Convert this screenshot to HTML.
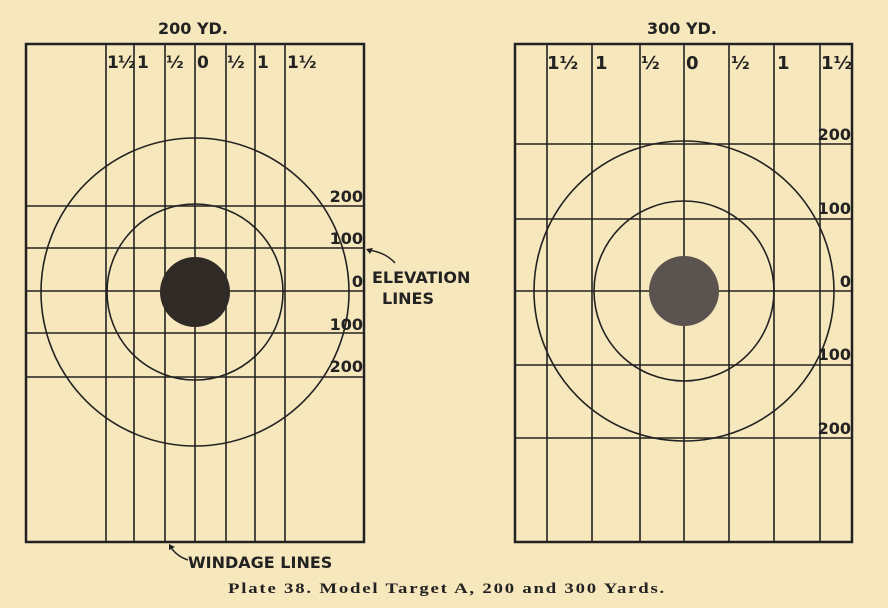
<!DOCTYPE html>
<html><head><meta charset="utf-8"><style>
html,body{margin:0;padding:0;background:#f7e7bd;}
svg{display:block}
text{font-family:"DejaVu Sans","Liberation Sans",sans-serif;font-weight:bold;fill:#222;}
</style></head><body>
<svg width="888" height="608" viewBox="0 0 888 608" xmlns="http://www.w3.org/2000/svg">
<rect width="888" height="608" fill="#f7e7bd"/>
<g stroke="#222" fill="none">
<rect x="26" y="44" width="338" height="498" stroke-width="2.5"/>
<g stroke-width="1.6">
<line x1="106" y1="44" x2="106" y2="542"/><line x1="134" y1="44" x2="134" y2="542"/>
<line x1="165" y1="44" x2="165" y2="542"/><line x1="195" y1="44" x2="195" y2="542"/>
<line x1="226" y1="44" x2="226" y2="542"/><line x1="255" y1="44" x2="255" y2="542"/>
<line x1="285" y1="44" x2="285" y2="542"/>
<line x1="26" y1="206" x2="364" y2="206"/><line x1="26" y1="248" x2="364" y2="248"/>
<line x1="26" y1="291" x2="364" y2="291"/><line x1="26" y1="333" x2="364" y2="333"/>
<line x1="26" y1="377" x2="364" y2="377"/>
<circle cx="195" cy="292" r="154"/>
<circle cx="195" cy="292" r="88"/>
</g>
<rect x="515" y="44" width="337" height="498" stroke-width="2.5"/>
<g stroke-width="1.6">
<line x1="547" y1="44" x2="547" y2="542"/><line x1="592" y1="44" x2="592" y2="542"/>
<line x1="640" y1="44" x2="640" y2="542"/><line x1="684" y1="44" x2="684" y2="542"/>
<line x1="729" y1="44" x2="729" y2="542"/><line x1="774" y1="44" x2="774" y2="542"/>
<line x1="820" y1="44" x2="820" y2="542"/>
<line x1="515" y1="144" x2="852" y2="144"/><line x1="515" y1="219" x2="852" y2="219"/>
<line x1="515" y1="291" x2="852" y2="291"/><line x1="515" y1="365" x2="852" y2="365"/>
<line x1="515" y1="438" x2="852" y2="438"/>
<circle cx="684" cy="291" r="150"/>
<circle cx="684" cy="291" r="90"/>
</g>
<path d="M395 263 Q385 252 368 250" stroke-width="1.5"/>
<path d="M188 560 Q176 556 170 546" stroke-width="1.5"/>
</g>
<circle cx="195" cy="292" r="35" fill="#2f2a26"/>
<circle cx="684" cy="291" r="35" fill="#5a5350"/>
<path d="M366 249 l7 -1 l-3 6 z" fill="#222"/>
<path d="M169 544 l6 3 l-6 3 z" fill="#222"/>
<g font-size="16">
<text x="158" y="34">200 YD.</text>
<text x="647" y="34">300 YD.</text>
<g font-size="17">
<text x="107" y="68" letter-spacing="-1">1½</text><text x="137" y="68">1</text><text x="166" y="68">½</text><text x="197" y="68">0</text>
<text x="227" y="68">½</text><text x="257" y="68">1</text><text x="287" y="68">1½</text>
</g>
<g font-size="18">
<text x="547" y="69">1½</text><text x="595" y="69">1</text><text x="641" y="69">½</text><text x="686" y="69">0</text>
<text x="731" y="69">½</text><text x="777" y="69">1</text><text x="821" y="69">1½</text>
</g>
<g text-anchor="end">
<text x="363" y="202">200</text><text x="363" y="244">100</text><text x="363" y="287">0</text>
<text x="363" y="330">100</text><text x="363" y="372">200</text>
<text x="851" y="140">200</text><text x="851" y="214">100</text><text x="851" y="287">0</text>
<text x="851" y="360">100</text><text x="851" y="434">200</text>
</g>
<text x="372" y="283">ELEVATION</text>
<text x="382" y="304">LINES</text>
<text x="188" y="568">WINDAGE LINES</text>
</g>
<g transform="translate(228,593) scale(1.25,1)">
<text x="0" y="0" font-size="15" textLength="349" lengthAdjust="spacing" style="font-family:'Liberation Serif',serif">Plate 38.  Model Target A, 200 and 300 Yards.</text>
</g>
</svg>
</body></html>
